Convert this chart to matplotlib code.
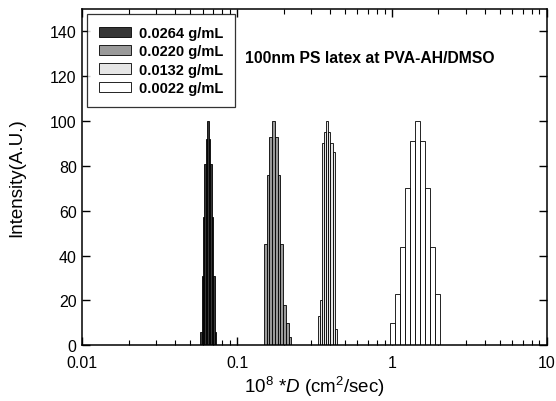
import matplotlib
matplotlib.use("Agg")
import matplotlib.pyplot as plt
import numpy as np

plt.rcParams['font.family'] = ['Liberation Sans', 'DejaVu Sans']
plt.rcParams['mathtext.fontset'] = 'custom'
plt.rcParams['mathtext.rm'] = 'Liberation Sans'
plt.rcParams['mathtext.it'] = 'Liberation Sans:italic'
plt.rcParams['mathtext.bf'] = 'Liberation Sans:bold'

# ---- data ----
series_labels = ["0.0264 g/mL", "0.0220 g/mL", "0.0132 g/mL", "0.0022 g/mL"]

edges_0264 = [0.05772, 0.05898, 0.06028, 0.06160, 0.06295, 0.06433, 0.06573,
              0.06717, 0.06864, 0.07015, 0.07168, 0.07325]
heights_0264 = [6, 31, 57, 81, 92, 100, 92, 81, 57, 31, 6]

edges_0220 = [0.14921, 0.15542, 0.16188, 0.16862, 0.17563, 0.18294, 0.19055,
              0.19848, 0.20673, 0.21533, 0.22429]
heights_0220 = [45, 76, 93, 100, 93, 76, 45, 18, 10, 3.5]

edges_0132 = [0.3311, 0.34189, 0.35304, 0.36455, 0.37643, 0.38870, 0.40137,
              0.41446, 0.42797, 0.44192]
heights_0132 = [13, 20, 90, 95, 100, 95, 90, 86, 7]

edges_0022 = [0.9750, 1.05066, 1.13219, 1.22005, 1.31472, 1.41674, 1.52668,
              1.64515, 1.77281, 1.91038, 2.05863]
heights_0022 = [10, 23, 44, 70, 91, 100, 91, 70, 44, 23]

x_ticks = [0.01, 0.1, 1, 10]
x_tick_labels = ["0.01", "0.1", "1", "10"]
y_ticks = [0, 20, 40, 60, 80, 100, 120, 140]

colors = ["#363636", "#9a9a9a", "#e6e6e6", "#ffffff"]

# ---- figure ----
fig = plt.figure(figsize=(5.56, 4.02), dpi=100)
ax = fig.add_axes([0.148, 0.139, 0.835, 0.836])

all_edges = [edges_0264, edges_0220, edges_0132, edges_0022]
all_heights = [heights_0264, heights_0220, heights_0132, heights_0022]
for e, h, c, lab in zip(all_edges, all_heights, colors, series_labels):
    e = np.asarray(e)
    ax.bar(e[:-1], h, width=np.diff(e), align='edge', color=c,
           edgecolor='black', linewidth=0.6, label=lab, zorder=2)

ax.set_xscale('log')
ax.set_xlim(0.01, 10)
ax.set_ylim(0, 150)
ax.set_xticks(x_ticks)
ax.set_xticklabels(x_tick_labels)
ax.set_yticks(y_ticks)
ax.xaxis.set_minor_locator(matplotlib.ticker.LogLocator(base=10, subs=np.arange(2, 10)))
ax.xaxis.set_minor_formatter(matplotlib.ticker.NullFormatter())

ax.tick_params(axis='both', which='major', direction='in', length=6, width=1,
               top=True, right=True, labelsize=11.5)
ax.tick_params(axis='x', which='major', pad=7)
ax.tick_params(axis='y', which='major', pad=4)
ax.tick_params(axis='x', which='minor', direction='in', length=3.5, width=0.8,
               top=True)
for s in ax.spines.values():
    s.set_linewidth(1.1)

ax.set_ylabel("Intensity(A.U.)", fontsize=13.5, labelpad=18)
ax.set_xlabel(r"10$^{8}$ *$D$ (cm$^{2}$/sec)", fontsize=13.5, labelpad=3)

leg = ax.legend(loc='upper left', bbox_to_anchor=(0.01, 0.985), borderaxespad=0,
                prop={'weight': 'bold', 'size': 10.5}, frameon=True,
                fancybox=False, edgecolor='black', handlelength=2.2,
                handleheight=0.7, labelspacing=0.3, borderpad=0.8,
                handletextpad=0.55)
leg.get_frame().set_linewidth(0.9)
leg.set_zorder(5)

ax.text(0.35, 0.855, "100nm PS latex at PVA-AH/DMSO", transform=ax.transAxes,
        fontsize=11.3, fontweight='bold', va='center', ha='left')

fig.savefig("out.png", dpi=100)
